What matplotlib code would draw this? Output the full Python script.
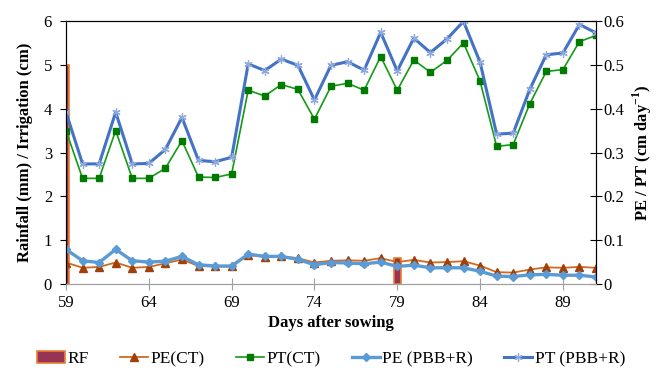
import matplotlib
matplotlib.use("Agg")
import matplotlib.pyplot as plt
import numpy as np

plt.rcParams['font.family'] = ['Liberation Serif', 'DejaVu Serif']
plt.rcParams['mathtext.fontset'] = 'custom'
plt.rcParams['mathtext.rm'] = 'Liberation Serif'
plt.rcParams['mathtext.bf'] = 'Liberation Serif:bold'

days = list(range(59, 92))

# rainfall events (left axis)
rf_days = [59, 79]
rf = [5.0, 0.6]

# cm/day (right axis)
pe_ct = [0.049, 0.037, 0.039, 0.049, 0.037, 0.039, 0.047, 0.056, 0.041, 0.040,
         0.040, 0.066, 0.062, 0.063, 0.059, 0.049, 0.053, 0.054, 0.053, 0.059,
         0.050, 0.055, 0.049, 0.050, 0.052, 0.042, 0.027, 0.026, 0.033, 0.038,
         0.037, 0.039, 0.037]
pt_ct = [0.350, 0.241, 0.241, 0.350, 0.241, 0.241, 0.264, 0.327, 0.244, 0.243,
         0.251, 0.442, 0.429, 0.455, 0.444, 0.376, 0.451, 0.458, 0.442, 0.519,
         0.442, 0.511, 0.483, 0.510, 0.550, 0.463, 0.314, 0.318, 0.411, 0.485,
         0.489, 0.553, 0.567]
pe_pbb = [0.079, 0.053, 0.049, 0.079, 0.053, 0.050, 0.052, 0.063, 0.044, 0.041,
          0.041, 0.068, 0.063, 0.063, 0.056, 0.044, 0.049, 0.048, 0.046, 0.050,
          0.040, 0.043, 0.037, 0.037, 0.037, 0.029, 0.018, 0.017, 0.021, 0.022,
          0.020, 0.020, 0.016]
pt_pbb = [0.392, 0.274, 0.274, 0.392, 0.274, 0.275, 0.307, 0.380, 0.282, 0.279,
          0.289, 0.502, 0.487, 0.513, 0.499, 0.420, 0.499, 0.507, 0.488, 0.574,
          0.486, 0.561, 0.528, 0.559, 0.599, 0.506, 0.342, 0.344, 0.444, 0.523,
          0.527, 0.592, 0.573]

fig = plt.figure(figsize=(6.57, 3.70), dpi=100)
ax = fig.add_axes([66/657, 1-284/370, (596-66)/657, (284-21)/370])
ax2 = ax.twinx()

bars = ax.bar(rf_days, rf, width=0.42, color='#953553', edgecolor='#ED7D31',
              linewidth=1.2, label='RF', zorder=2)

l1, = ax2.plot(days, pe_ct, color='#D2691E', lw=1.3, marker='^', ms=5.5,
               mfc='#A0400A', mec='#A0400A', label='PE(CT)')
l2, = ax2.plot(days, pt_ct, color='#159A15', lw=1.2, marker='s', ms=4.5,
               mfc='#007A00', mec='#007A00', label='PT(CT)')
l3, = ax2.plot(days, pe_pbb, color='#5B9BD5', lw=2.4, marker='D', ms=4.5,
               mfc='#5B9BD5', mec='#5B9BD5', label='PE (PBB+R)')
l4, = ax2.plot(days, pt_pbb, color='#4472C4', lw=2.2, marker=(6, 2, 0), ms=6,
               mec='#8FAADC', mew=0.9, label='PT (PBB+R)')

ax.set_xlim(59, 91)
ax.set_ylim(0, 6)
ax2.set_ylim(0, 0.6)
ax.set_xticks(range(59, 91, 5))
ax.set_yticks(range(0, 7))
ax2.set_yticks(np.arange(0, 0.61, 0.1))
ax2.set_yticklabels(['0', '0.1', '0.2', '0.3', '0.4', '0.5', '0.6'])

ax.tick_params(axis='x', direction='inout', length=8, color='#A0A0A0',
               labelsize=12, pad=4)
ax.tick_params(axis='y', direction='out', length=4, labelsize=12, pad=6)
ax2.tick_params(axis='y', direction='inout', length=8, labelsize=12, pad=1)

for a in (ax, ax2):
    a.spines['bottom'].set_color('#A0A0A0')
    a.spines['top'].set_color('black')
    a.spines['left'].set_color('black')
    a.spines['right'].set_color('black')

ax.set_xlabel('Days after sowing', fontsize=12, fontweight='bold', labelpad=3)
ax.set_ylabel('Rainfall (mm) / Irrigation (cm)', fontsize=12,
              fontweight='bold', labelpad=8)
ax2.set_ylabel('PE / PT (cm day$^{\\mathbf{-1}}$)', fontsize=12,
               fontweight='bold', labelpad=5)

fig.legend([bars, l1, l2, l3, l4],
           ['RF', 'PE(CT)', 'PT(CT)', 'PE (PBB+R)', 'PT (PBB+R)'],
           loc='center', bbox_to_anchor=(0.504, 0.03), ncol=5, frameon=False,
           fontsize=12.5, handlelength=1.6, columnspacing=1.8,
           handletextpad=0.15, borderpad=0.1)

fig.savefig('out.png', dpi=100)
